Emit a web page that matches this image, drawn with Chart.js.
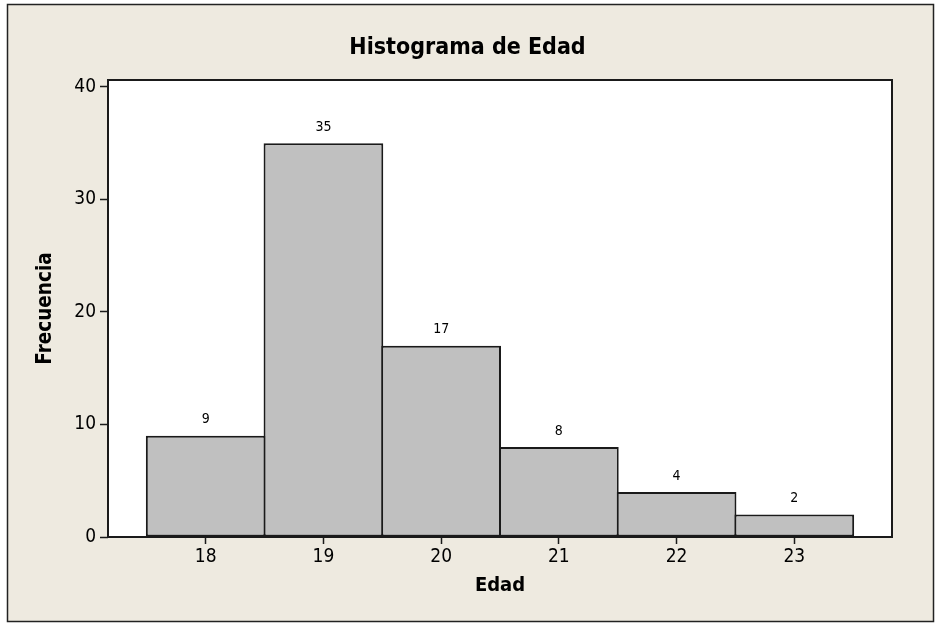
<!DOCTYPE html>
<html>
<head>
<meta charset="utf-8">
<script src="https://cdn.jsdelivr.net/npm/chart.js@4/dist/chart.umd.min.js"></script>
<style>
  html, body { margin: 0; padding: 0; background: #ffffff; }
  #wrap { width: 935px; height: 624px; }
</style>
</head>
<body>
<div id="wrap"><canvas id="c" width="935" height="624"></canvas></div>
<script>
const categories = [18, 19, 20, 21, 22, 23];
const frequencies = [9, 35, 17, 8, 4, 2];
const xTickValues = [18, 19, 20, 21, 22, 23];
const yTickValues = [0, 10, 20, 30, 40];
const titleText = 'Histograma de Edad';
const xTitle = 'Edad';
const yTitle = 'Frecuencia';

const FONT = '"DejaVu Sans Condensed", "DejaVu Sans", sans-serif';

const framePlugin = {
  id: 'frame',
  beforeDraw(chart) {
    const ctx = chart.ctx;
    const a = chart.chartArea;
    ctx.save();
    ctx.fillStyle = '#ffffff';
    ctx.fillRect(0, 0, chart.width, chart.height);
    ctx.fillStyle = '#EEEAE0';
    ctx.fillRect(7.5, 4.5, 926, 617);
    ctx.strokeStyle = '#222222';
    ctx.lineWidth = 1.5;
    ctx.strokeRect(7.5, 4.5, 926, 617);
    ctx.fillStyle = '#ffffff';
    ctx.fillRect(a.left, a.top, a.right - a.left, a.bottom - a.top);
    ctx.restore();
  },
  afterDatasetsDraw(chart) {
    const ctx = chart.ctx;
    const a = chart.chartArea;
    ctx.save();
    ctx.strokeStyle = '#1a1a1a';
    ctx.lineWidth = 2;
    ctx.strokeRect(a.left, a.top, a.right - a.left, a.bottom - a.top);
    const meta = chart.getDatasetMeta(0);
    ctx.fillStyle = '#000000';
    ctx.font = '14px ' + FONT;
    ctx.textAlign = 'center';
    ctx.textBaseline = 'bottom';
    meta.data.forEach((bar, i) => {
      ctx.fillText(String(frequencies[i]), bar.x, bar.y - 9);
    });
    ctx.restore();
  }
};

new Chart(document.getElementById('c'), {
  type: 'bar',
  data: {
    datasets: [{
      data: categories.map((c, i) => ({ x: c, y: frequencies[i] })),
      backgroundColor: '#C0C0C0',
      borderColor: '#1a1a1a',
      borderWidth: 2,
      borderSkipped: false,
      barPercentage: 1.017,
      categoryPercentage: 1
    }]
  },
  options: {
    responsive: false,
    animation: false,
    events: [],
    layout: { padding: { left: 43, right: 43, top: 0, bottom: 0 } },
    plugins: {
      legend: { display: false },
      tooltip: { enabled: false },
      title: {
        display: true,
        text: titleText,
        color: '#000000',
        font: { family: FONT, size: 23, weight: 'bold', lineHeight: 1.2 },
        padding: { top: 34, bottom: 80 - 34 - 27.6 }
      }
    },
    scales: {
      x: {
        type: 'linear',
        offset: false,
        min: 17.17,
        max: 23.83,
        afterBuildTicks(scale) { scale.ticks = xTickValues.map(v => ({ value: v })); },
        afterFit(scale) { scale.height = 87; },
        border: { display: false },
        grid: { offset: false, drawOnChartArea: false, drawTicks: true, tickLength: 7, tickColor: '#1a1a1a', tickWidth: 1.5 },
        ticks: { color: '#000000', font: { family: FONT, size: 19 }, padding: 2, maxRotation: 0 },
        title: {
          display: true, text: xTitle, color: '#000000',
          font: { family: FONT, size: 20, weight: 'bold', lineHeight: 1.2 },
          padding: { top: 0, bottom: 26 }
        }
      },
      y: {
        type: 'linear',
        min: 0,
        max: 40.62,
        afterBuildTicks(scale) { scale.ticks = yTickValues.map(v => ({ value: v })); },
        afterFit(scale) { scale.width = 65; },
        border: { display: false },
        grid: { drawOnChartArea: false, drawTicks: true, tickLength: 8, tickColor: '#1a1a1a', tickWidth: 1.5 },
        ticks: { color: '#000000', font: { family: FONT, size: 19 }, padding: 4 },
        title: {
          display: true, text: yTitle, color: '#000000',
          font: { family: FONT, size: 20.5, weight: 'bold', lineHeight: 1.2 },
          padding: { top: -9.3, bottom: 0 }
        }
      }
    }
  },
  plugins: [framePlugin]
});
</script>
</body>
</html>
